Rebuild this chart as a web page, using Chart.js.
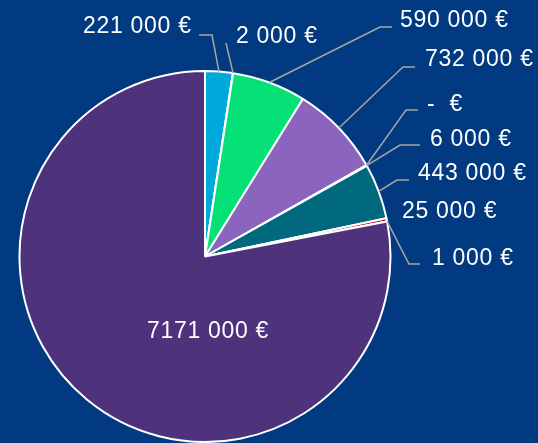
<!DOCTYPE html>
<html>
<head>
<meta charset="utf-8">
<script src="https://cdn.jsdelivr.net/npm/chart.js@4/dist/chart.umd.min.js"></script>
<style>
  html, body { margin: 0; padding: 0; background: #013a81; }
  #wrap { width: 538px; height: 443px; }
</style>
</head>
<body>
<div id="wrap"><canvas id="pieChart" width="538" height="443"></canvas></div>
<script>
// values, clockwise from the top
const categories = ["A", "B", "C", "D", "E", "F", "G", "H", "I", "J"];
const amounts = [221000, 2000, 590000, 732000, 0, 6000, 443000, 25000, 1000, 7171000];
const amountLabels = ["221 000 €", "2 000 €", "590 000 €", "732 000 €", "-  €", "6 000 €", "443 000 €", "25 000 €", "1 000 €", "7171 000 €"];

const sliceColors = ["#00a9db", "#c9e7a7", "#05e177", "#8a64bd", "#ffc000", "#7fd1e8", "#00697e", "#c00000", "#f2b183", "#4f327c"];

// label placement: text left/middle, then leader points (null = no leader, "inside" = centred in slice)
const labelLayout = [
  { x: 83,  y: 27,  leader: [[199, 35], [212, 35]] },
  { x: 236, y: 37,  leader: [[226, 43]] },
  { x: 400, y: 21,  leader: [[392, 27], [380, 27]] },
  { x: 425, y: 60,  leader: [[415, 67], [403, 67]] },
  { x: 427, y: 105, leader: [[418, 110], [406, 110]] },
  { x: 430, y: 140, leader: [[420, 145], [400, 145]] },
  { x: 418, y: 174, leader: [[409, 180], [397, 180]] },
  { x: 402, y: 212, leader: null },
  { x: 432, y: 259, leader: [[420, 264], [409, 264]] },
  { inside: true, dx: 3, dy: 332 }
];

const outsideLabels = {
  id: "outsideLabels",
  afterDatasetsDraw(chart) {
    const ctx = chart.ctx;
    const arcs = chart.getDatasetMeta(0).data;
    ctx.save();
    ctx.font = "23px 'Liberation Sans', Arial, sans-serif";
    ctx.letterSpacing = "0.7px";
    ctx.textBaseline = "middle";
    arcs.forEach((arc, i) => {
      const p = arc.getProps(["x", "y", "startAngle", "endAngle", "outerRadius"], true);
      const mid = (p.startAngle + p.endAngle) / 2;
      const ax = p.x + Math.cos(mid) * p.outerRadius;
      const ay = p.y + Math.sin(mid) * p.outerRadius;
      const lay = labelLayout[i];
      ctx.fillStyle = "#ffffff";
      if (lay.inside) {
        ctx.textAlign = "center";
        ctx.fillText(amountLabels[i], p.x + lay.dx, lay.dy);
        return;
      }
      if (lay.leader) {
        ctx.strokeStyle = "#a6a6a6";
        ctx.lineWidth = 1.5;
        ctx.beginPath();
        ctx.moveTo(lay.leader[0][0], lay.leader[0][1]);
        for (let k = 1; k < lay.leader.length; k++) ctx.lineTo(lay.leader[k][0], lay.leader[k][1]);
        ctx.lineTo(ax, ay);
        ctx.stroke();
      }
      ctx.textAlign = "left";
      ctx.fillText(amountLabels[i], lay.x, lay.y);
    });
    ctx.restore();
  }
};

new Chart(document.getElementById("pieChart").getContext("2d"), {
  type: "pie",
  data: {
    labels: categories,
    datasets: [{
      data: amounts,
      backgroundColor: sliceColors,
      borderColor: "#ffffff",
      borderWidth: 2
    }]
  },
  options: {
    responsive: false,
    animation: false,
    layout: { padding: { left: 18, right: 146, top: 70, bottom: 0 } },
    plugins: {
      legend: { display: false },
      tooltip: { enabled: false }
    }
  },
  plugins: [outsideLabels]
});
</script>
</body>
</html>
